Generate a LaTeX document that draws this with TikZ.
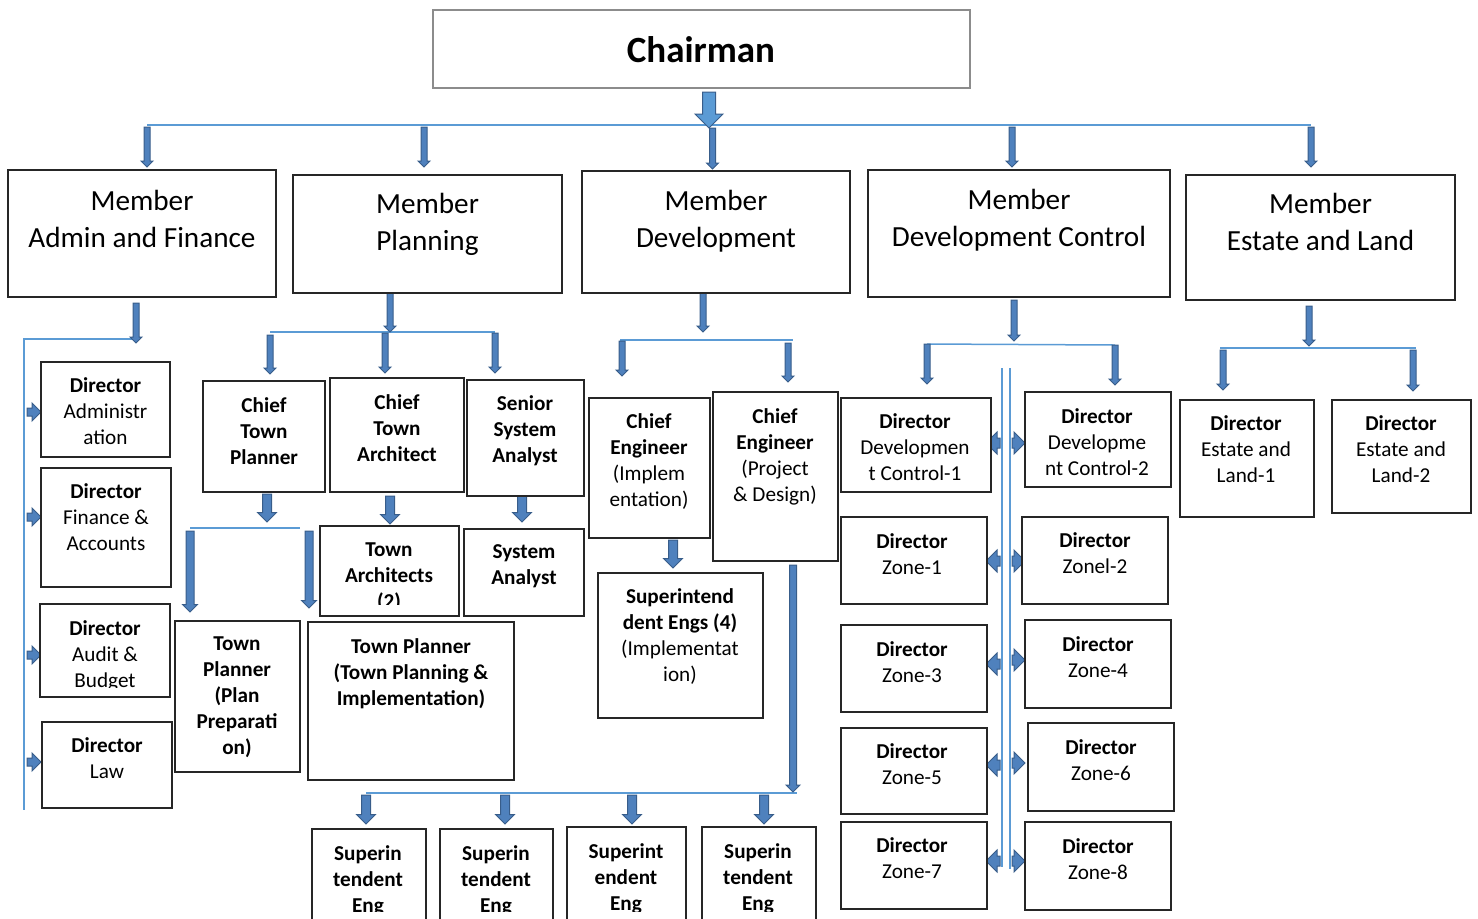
\documentclass[tikz,border=0pt]{standalone}
\usepackage{fontspec}
\setmainfont{Carlito}
\usetikzlibrary{fit}
\definecolor{arrfill}{RGB}{79,129,189}
\definecolor{arrline}{RGB}{56,93,138}
\definecolor{bigfill}{RGB}{91,155,213}
\definecolor{busblue}{RGB}{91,155,213}
\definecolor{boxline}{RGB}{38,38,38}
\tikzset{
  box/.style={draw=boxline, line width=0.65pt, fill=white, inner sep=0pt},
  chairbox/.style={box, draw=black!45},
  dtxt/.style={font=\fontsize{10.6}{13}\selectfont, align=center, anchor=north, inner sep=0pt},
  dbold/.style={dtxt, font=\fontsize{10.6}{13}\selectfont\bfseries},
  mtxt/.style={font=\fontsize{14.6}{18.5}\selectfont, align=center, anchor=north, inner sep=0pt},
  bus/.style={draw=busblue, line width=0.75pt},
  blk/.style={fill=arrfill, draw=arrline, line width=0.5pt},
  bigblk/.style={fill=bigfill, draw=arrline, line width=0.5pt}
}
% block arrows: x, tail y, tip y, half shaft, half head
\newcommand{\blkdown}[6][blk]{%
  \filldraw[#1] ({#2-#5},#3) -- ({#2+#5},#3) -- ({#2+#5},{#4-#6}) -- ({#2+#6},{#4-#6})
    -- (#2,#4) -- ({#2-#6},{#4-#6}) -- ({#2-#5},{#4-#6}) -- cycle;}
% tail x, tip x, y, half shaft, half head
\newcommand{\blkright}[5]{%
  \filldraw[blk] (#1,{#3-#4}) -- ({#2-#5},{#3-#4}) -- ({#2-#5},{#3-#5}) -- (#2,#3)
    -- ({#2-#5},{#3+#5}) -- ({#2-#5},{#3+#4}) -- (#1,{#3+#4}) -- cycle;}
\newcommand{\blkleft}[5]{%
  \filldraw[blk] (#1,{#3-#4}) -- ({#2+#5},{#3-#4}) -- ({#2+#5},{#3-#5}) -- (#2,#3)
    -- ({#2+#5},{#3+#5}) -- ({#2+#5},{#3+#4}) -- (#1,{#3+#4}) -- cycle;}

\begin{document}
\begin{tikzpicture}[x=0.5pt, y=-0.5pt]
\useasboundingbox (0,0) rectangle (1478,918);

% connector lines
\draw[bus] (147,125) -- (1311,125);
\draw[bus] (136,339) -- (24,339) -- (24,810);
\draw[bus] (270,332) -- (495,332);
\draw[bus] (190,528) -- (300,528);
\draw[bus] (620,340) -- (793,340);
\draw[bus] (366,793) -- (797,793);
\draw[bus] (927,344) -- (1115,345);
\draw[bus] (1220,348) -- (1416,348);
\draw[bus] (1002,368) -- (1002,867);
\draw[bus] (1010,368) -- (1010,869);

% arrows from the chairman to the members
\blkdown[bigblk]{709}{92}{128}{6.5}{14}
\blkdown{712.5}{128}{169}{3}{6}
\foreach \x in {147,424,1012,1311}
  \blkdown{\x}{127}{167}{3}{6};

% admin and finance
\blkdown{136}{303}{343}{3}{6}
\foreach \y in {412,517,655,762}
  \blkright{27}{41}{\y}{4}{9};

% planning
\blkdown{390}{293}{332}{3}{6}
\blkdown{270}{335}{374}{3}{6}
\blkdown{385}{333}{373}{3}{6}
\blkdown{495}{333}{373}{3}{6}
\blkdown{267}{494}{522}{4.5}{9.5}
\blkdown{190}{531}{612}{4}{7.5}
\blkdown{309}{531}{608}{4}{7.5}
\blkdown{390}{496}{524}{4.5}{9.5}
\blkdown{522}{496}{522}{4.5}{9.5}

% development
\blkdown{703}{293}{332}{3}{6}
\blkdown{622}{341}{376}{3}{6}
\blkdown{788}{343}{382}{3}{6}
\blkdown{673}{540}{568}{4.5}{9.5}
\blkdown{793}{565}{792}{3.5}{7}
\foreach \x in {366,505,632,764}
  \blkdown{\x}{795}{824}{4.5}{9.5};

% development control
\blkdown{1014}{300}{341}{3}{6}
\blkdown{927}{344}{384}{3}{6}
\blkdown{1115}{345}{385}{3}{6}
\foreach \y in {443,561,664,765,861}
  \blkleft{1000}{986}{\y}{5}{11};
\foreach \y in {443,561,660,763,861}
  \blkright{1012}{1025}{\y}{5}{11};

% estate and land
\blkdown{1309}{306}{346}{3}{6}
\blkdown{1223}{350}{390}{3}{6}
\blkdown{1413}{350}{391}{3}{6}

% boxes
\node[chairbox, fit={(433,10) (970,88)}] (chair) {};
\node[box, fit={(8,170) (276,297)}] (mAF) {};
\node[box, fit={(293,175) (562,293)}] (mPL) {};
\node[box, fit={(582,171) (850,293)}] (mDV) {};
\node[box, fit={(868,170) (1170,297)}] (mDC) {};
\node[box, fit={(1186,175) (1455,300)}] (mEL) {};
\node[box, fit={(41,362) (170,457)}] (dAdm) {};
\node[box, fit={(41,468) (171,587)}] (dFin) {};
\node[box, fit={(40,604) (170,697)}] (dAud) {};
\node[box, fit={(42,722) (172,808)}] (dLaw) {};
\node[box, fit={(203,381) (325,492)}] (cTP) {};
\node[box, fit={(330,378) (464,492)}] (cTA) {};
\node[box, fit={(467,380) (584,496)}] (sSA) {};
\node[box, fit={(175,621) (300,772)}] (tPP) {};
\node[box, fit={(308,622) (514,780)}] (tPI) {};
\node[box, fit={(320,526) (459,616)}] (tAr) {};
\node[box, fit={(464,529) (584,616)}] (sAn) {};
\node[box, fit={(589,398) (710,538)}] (ceI) {};
\node[box, fit={(713,392) (838,561)}] (ceP) {};
\node[box, fit={(598,573) (763,718)}] (seI) {};
\node[box, fit={(312,829) (426,940)}] (se1) {};
\node[box, fit={(440,829) (553,940)}] (se2) {};
\node[box, fit={(567,827) (686,940)}] (se3) {};
\node[box, fit={(702,827) (816,940)}] (se4) {};
\node[box, fit={(841,398) (991,492)}] (dc1) {};
\node[box, fit={(841,517) (987,604)}] (z1) {};
\node[box, fit={(841,625) (987,712)}] (z3) {};
\node[box, fit={(841,728) (987,814)}] (z5) {};
\node[box, fit={(841,822) (987,909)}] (z7) {};
\node[box, fit={(1025,392) (1171,487)}] (dc2) {};
\node[box, fit={(1022,517) (1168,604)}] (z2) {};
\node[box, fit={(1025,620) (1171,708)}] (z4) {};
\node[box, fit={(1028,723) (1174,811)}] (z6) {};
\node[box, fit={(1025,822) (1171,910)}] (z8) {};
\node[box, fit={(1180,400) (1314,517)}] (el1) {};
\node[box, fit={(1332,400) (1471,513)}] (el2) {};

% texts
\node[font=\fontsize{18.5}{22}\selectfont\bfseries] (chairT) at (701,50) {Chairman};
\node[mtxt] (mAFt) at (142,190) {Member\\Admin and Finance};
\node[mtxt] (mPLt) at (427.5,193) {Member\\Planning};
\node[mtxt] (mDVt) at (716,190) {Member\\Development};
\node[mtxt] (mDCt) at (1019,189) {Member\\Development Control};
\node[mtxt] (mELt) at (1320.5,193) {Member\\Estate and Land};

\node[dtxt] (dAdmT) at (105.5,377) {\textbf{Director}\\Administr\\ation};
\node[dtxt] (dFinT) at (106,483) {\textbf{Director}\\Finance \&\\Accounts};
\begin{scope}
  \clip (40,604) rectangle (170,687);
  \node[dtxt] (dAudT) at (105,620) {\textbf{Director}\\Audit \&\\Budget};
\end{scope}
\node[dtxt] (dLawT) at (107,737) {\textbf{Director}\\Law};

\node[dbold] (cTPt) at (264,397) {Chief\\Town\\Planner};
\node[dbold] (cTAt) at (397,394) {Chief\\Town\\Architect};
\node[dbold] (sSAt) at (525,395) {Senior\\System\\Analyst};
\node[dbold] (tPPt) at (237,636) {Town\\Planner\\(Plan\\Preparati\\on)};
\node[dbold] (tPIt) at (411,638) {Town Planner\\(Town Planning \&\\Implementation)};
\begin{scope}
  \clip (320,526) rectangle (459,604);
  \node[dbold] (tArT) at (389,542) {Town\\Architects\\(2)};
\end{scope}
\node[dbold] (sAnT) at (524,544) {System\\Analyst};

\node[dtxt] (ceIt) at (649,413) {\textbf{Chief}\\\textbf{Engineer}\\(Implem\\entation)};
\node[dtxt] (cePt) at (775,408) {\textbf{Chief}\\\textbf{Engineer}\\(Project\\\& Design)};
\node[dtxt] (seIt) at (680,588) {\textbf{Superintend}\\\textbf{dent Engs (4)}\\(Implementat\\ion)};
\begin{scope}
  \clip (300,820) rectangle (830,911);
  \node[dbold] (se1t) at (368,845) {Superin\\tendent\\Eng};
  \node[dbold] (se2t) at (496,845) {Superin\\tendent\\Eng};
  \node[dbold] (se3t) at (626,843) {Superint\\endent\\Eng};
  \node[dbold] (se4t) at (758,843) {Superin\\tendent\\Eng};
\end{scope}

\node[dtxt] (dc1t) at (915,413) {\textbf{Director}\\Developmen\\t Control-1};
\node[dtxt] (z1t) at (912,533) {\textbf{Director}\\Zone-1};
\node[dtxt] (z3t) at (912,641) {\textbf{Director}\\Zone-3};
\node[dtxt] (z5t) at (912,743) {\textbf{Director}\\Zone-5};
\node[dtxt] (z7t) at (912,837) {\textbf{Director}\\Zone-7};
\node[dtxt] (dc2t) at (1097,408) {\textbf{Director}\\Developme\\nt Control-2};
\node[dtxt] (z2t) at (1095,532) {\textbf{Director}\\Zonel-2};
\node[dtxt] (z4t) at (1098,636) {\textbf{Director}\\Zone-4};
\node[dtxt] (z6t) at (1101,739) {\textbf{Director}\\Zone-6};
\node[dtxt] (z8t) at (1098,838) {\textbf{Director}\\Zone-8};
\node[dtxt] (el1t) at (1246,415) {\textbf{Director}\\Estate and\\Land-1};
\node[dtxt] (el2t) at (1401,415) {\textbf{Director}\\Estate and\\Land-2};
\end{tikzpicture}
\end{document}
